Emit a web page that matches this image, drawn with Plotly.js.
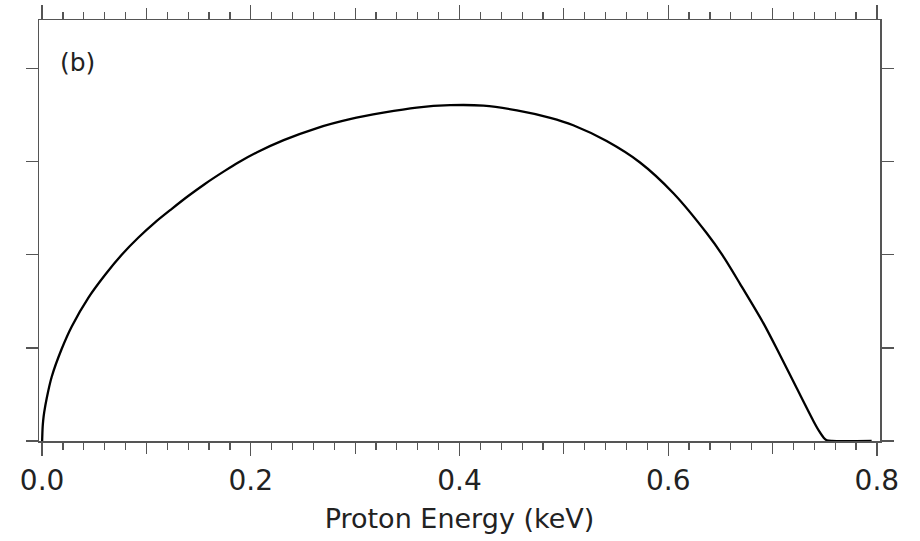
<!DOCTYPE html>
<html>
<head>
<meta charset="utf-8">
<script src="https://cdn.plot.ly/plotly-3.0.1.min.js"></script>
<style>html,body{margin:0;padding:0;background:#fff;}#chart{width:920px;height:541px;}</style>
</head>
<body>
<div id="chart"></div>
<script>
// Proton energy (keV)
var energy = [0, 0.0005, 0.001, 0.002, 0.0044, 0.0092, 0.0188, 0.0284, 0.0444, 0.0604, 0.0763, 0.0923, 0.108, 0.124, 0.140, 0.156, 0.175, 0.188, 0.206, 0.2315, 0.2635, 0.295, 0.327, 0.359, 0.391, 0.423, 0.455, 0.487, 0.509, 0.541, 0.573, 0.605, 0.637, 0.652, 0.669, 0.6915, 0.7075, 0.7235, 0.7394, 0.745, 0.749, 0.752, 0.757, 0.795];
// Distribution (arbitrary units, one unit per y tick)
var flux = [0, 0.15, 0.22, 0.31, 0.46, 0.69, 0.99, 1.23, 1.54, 1.785, 2.00, 2.185, 2.345, 2.49, 2.63, 2.76, 2.90, 2.99, 3.10, 3.23, 3.36, 3.455, 3.525, 3.58, 3.605, 3.60, 3.55, 3.47, 3.39, 3.22, 2.99, 2.66, 2.23, 1.995, 1.685, 1.26, 0.915, 0.56, 0.21, 0.10, 0.035, 0.008, 0, 0];

var majorTicks = [0.0, 0.2, 0.4, 0.6, 0.8];
var majorLabels = ["0.0", "0.2", "0.4", "0.6", "0.8"];
var midTicks = [0.1, 0.3, 0.5, 0.7];
var yTicks = [0, 1, 2, 3, 4];
var panelLabel = "(b)";
var xTitle = "Proton Energy (keV)";

var xRange = [-0.003, 0.803];
var axisColor = "#555";
var fontFam = "DejaVu Sans, sans-serif";

var trace = {
  x: energy, y: flux, type: "scatter", mode: "lines",
  line: {color: "#000", width: 2.3, shape: "spline", smoothing: 0.8},
  xaxis: "x", yaxis: "y", hoverinfo: "skip"
};
// invisible trace to activate the overlay axis
var trace2 = {
  x: [energy[0]], y: [flux[0]], type: "scatter", mode: "markers",
  marker: {opacity: 0}, xaxis: "x2", yaxis: "y", showlegend: false, hoverinfo: "skip"
};

var layout = {
  width: 920, height: 541,
  margin: {l: 39, r: 40, t: 20, b: 100},
  paper_bgcolor: "#fff", plot_bgcolor: "#fff",
  showlegend: false,
  font: {family: fontFam, color: "#222"},
  xaxis: {
    range: xRange, showgrid: false, zeroline: false,
    showline: true, linecolor: axisColor, linewidth: 1.5, mirror: "ticks",
    ticks: "outside", tickmode: "array", tickvals: midTicks, ticklen: 11,
    tickwidth: 1.3, tickcolor: axisColor, showticklabels: false,
    minor: {dtick: 0.02, tick0: 0, ticks: "outside", ticklen: 7, tickwidth: 1.2, tickcolor: axisColor, showgrid: false}
  },
  xaxis2: {
    overlaying: "x", side: "bottom", range: xRange, showgrid: false, zeroline: false,
    showline: false, mirror: "ticks",
    ticks: "outside", tickmode: "array", tickvals: majorTicks, ticktext: majorLabels,
    ticklen: 14, tickwidth: 1.3, tickcolor: axisColor,
    tickfont: {family: fontFam, size: 28, color: "#222"},
    title: {text: xTitle, font: {family: fontFam, size: 27, color: "#222"}, standoff: 13}
  },
  yaxis: {
    range: [0, 4.52], showgrid: false, zeroline: false,
    showline: true, linecolor: axisColor, linewidth: 1.5, mirror: "ticks",
    ticks: "outside", tickmode: "array", tickvals: yTicks, ticklen: 12,
    tickwidth: 1.3, tickcolor: axisColor, showticklabels: false
  },
  annotations: [{
    xref: "paper", yref: "paper", x: 0.0226, y: 0.898,
    xanchor: "left", yanchor: "middle", showarrow: false,
    text: panelLabel, font: {family: fontFam, size: 25, color: "#222"}
  }]
};

Plotly.newPlot("chart", [trace, trace2], layout, {staticPlot: true, displayModeBar: false});
</script>
</body>
</html>
